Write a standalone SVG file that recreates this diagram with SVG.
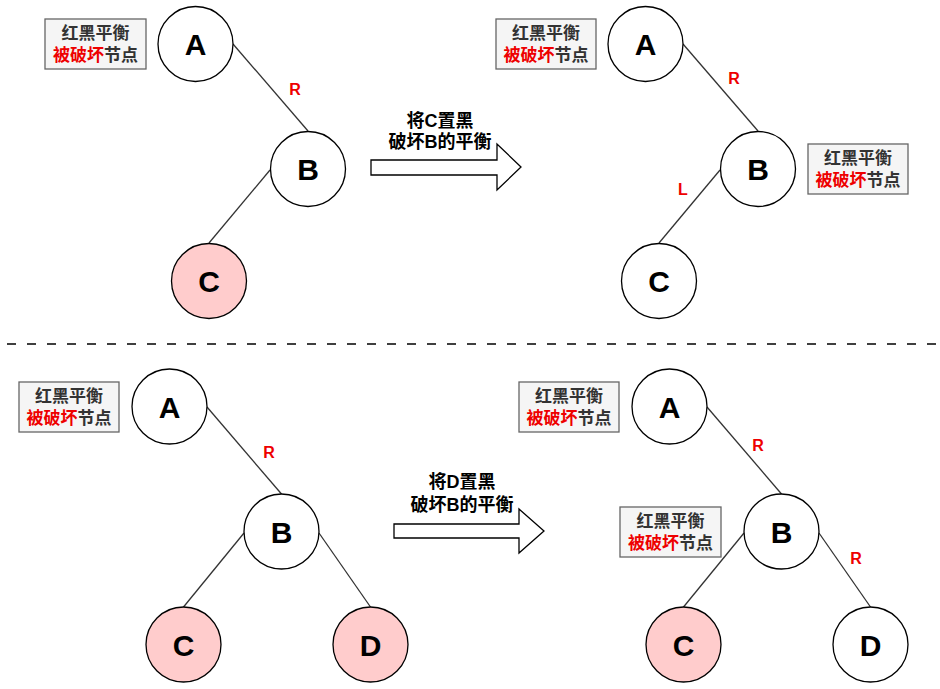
<svg xmlns="http://www.w3.org/2000/svg" width="940" height="689" viewBox="0 0 940 689">
<style>
text{font-family:"Liberation Sans","Noto Sans CJK SC",sans-serif;font-weight:bold}
.n{fill:#ffffff;stroke:#000;stroke-width:1.3}
.p{fill:#ffcccc;stroke:#000;stroke-width:1.3}
.nt{font-size:30px;fill:#000;text-anchor:middle}
.e{stroke:#333;stroke-width:1.3;fill:none}
.el{font-size:16px;fill:#ee0000;text-anchor:middle}
.lb rect{fill:#f5f5f5;stroke:#666;stroke-width:1.3}
.lb text{font-size:17px;fill:#333;text-anchor:middle}
.r{fill:#ee0000}
.ar{fill:#fff;stroke:#000;stroke-width:1.3}
.at{font-size:18px;fill:#000;text-anchor:middle}
</style>
<rect width="940" height="689" fill="#fff"/>
<g id="connectors">
<line class="e" x1="233" y1="44" x2="308" y2="131"/>
<line class="e" x1="270" y1="170" x2="209" y2="243"/>
<line class="e" x1="683" y1="44" x2="758" y2="131"/>
<line class="e" x1="720" y1="170" x2="659" y2="243"/>
<line class="e" x1="207" y1="407" x2="281.5" y2="494"/>
<line class="e" x1="244" y1="533" x2="183.5" y2="607"/>
<line class="e" x1="319" y1="533" x2="370.5" y2="607"/>
<line class="e" x1="707" y1="407" x2="781.5" y2="494"/>
<line class="e" x1="744" y1="533" x2="683.5" y2="607"/>
<line class="e" x1="819" y1="533" x2="870.5" y2="607"/>
<text class="el" x="295" y="94.5">R</text>
<text class="el" x="734" y="83.5">R</text>
<text class="el" x="683" y="194.5">L</text>
<text class="el" x="269" y="457.5">R</text>
<text class="el" x="758" y="450.5">R</text>
<text class="el" x="856" y="563.5">R</text>
</g>
<g id="separator"><line x1="7" y1="344" x2="940" y2="344" stroke="#000" stroke-width="1.3" stroke-dasharray="9 11"/></g>
<g id="tl-A"><circle class="n" cx="195.5" cy="44" r="37.5"/><text class="nt" x="195.5" y="55">A</text></g>
<g id="tl-B"><circle class="n" cx="308" cy="169" r="37.5"/><text class="nt" x="308" y="180">B</text></g>
<g id="tl-C"><circle class="p" cx="209" cy="281" r="37.5"/><text class="nt" x="209" y="292">C</text></g>
<g id="tr-A"><circle class="n" cx="645.5" cy="44" r="37.5"/><text class="nt" x="645.5" y="55">A</text></g>
<g id="tr-B"><circle class="n" cx="758" cy="169" r="37.5"/><text class="nt" x="758" y="180">B</text></g>
<g id="tr-C"><circle class="n" cx="659" cy="281" r="37.5"/><text class="nt" x="659" y="292">C</text></g>
<g id="bl-A"><circle class="n" cx="169.5" cy="406.5" r="37.5"/><text class="nt" x="169.5" y="417.5">A</text></g>
<g id="bl-B"><circle class="n" cx="281.5" cy="531.5" r="37.5"/><text class="nt" x="281.5" y="542.5">B</text></g>
<g id="bl-C"><circle class="p" cx="183.5" cy="644.5" r="37.5"/><text class="nt" x="183.5" y="655.5">C</text></g>
<g id="bl-D"><circle class="p" cx="370.5" cy="644.5" r="37.5"/><text class="nt" x="370.5" y="655.5">D</text></g>
<g id="br-A"><circle class="n" cx="669.5" cy="406.5" r="37.5"/><text class="nt" x="669.5" y="417.5">A</text></g>
<g id="br-B"><circle class="n" cx="781.5" cy="531.5" r="37.5"/><text class="nt" x="781.5" y="542.5">B</text></g>
<g id="br-C"><circle class="p" cx="683.5" cy="644.5" r="37.5"/><text class="nt" x="683.5" y="655.5">C</text></g>
<g id="br-D"><circle class="n" cx="870.5" cy="644.5" r="37.5"/><text class="nt" x="870.5" y="655.5">D</text></g>
<g id="lb1" class="lb"><rect x="45" y="19" width="101" height="50"/><text x="95.5" y="39">红黑平衡</text><text x="95.5" y="61"><tspan class="r">被破坏</tspan>节点</text></g>
<g id="lb2" class="lb"><rect x="496" y="19" width="100" height="50"/><text x="546" y="39">红黑平衡</text><text x="546" y="61"><tspan class="r">被破坏</tspan>节点</text></g>
<g id="lb3" class="lb"><rect x="808" y="144" width="100" height="50"/><text x="858" y="164">红黑平衡</text><text x="858" y="186"><tspan class="r">被破坏</tspan>节点</text></g>
<g id="lb4" class="lb"><rect x="19" y="382" width="100" height="50"/><text x="69" y="402">红黑平衡</text><text x="69" y="424"><tspan class="r">被破坏</tspan>节点</text></g>
<g id="lb5" class="lb"><rect x="519" y="382" width="100" height="50"/><text x="569" y="402">红黑平衡</text><text x="569" y="424"><tspan class="r">被破坏</tspan>节点</text></g>
<g id="lb6" class="lb"><rect x="620" y="507" width="101" height="50"/><text x="670.5" y="527">红黑平衡</text><text x="670.5" y="549"><tspan class="r">被破坏</tspan>节点</text></g>
<g id="arrow1"><polygon class="ar" points="371,160 497,160 497,144 521,167 497,190 497,175 371,175"/><text class="at" x="440" y="126.5">将C置黑</text><text class="at" x="440" y="147.5">破坏B的平衡</text></g>
<g id="arrow2"><polygon class="ar" points="394,524 519,524 519,509 544,531 519,553 519,538 394,538"/><text class="at" x="462" y="487.5">将D置黑</text><text class="at" x="462" y="510.5">破坏B的平衡</text></g>
</svg>
